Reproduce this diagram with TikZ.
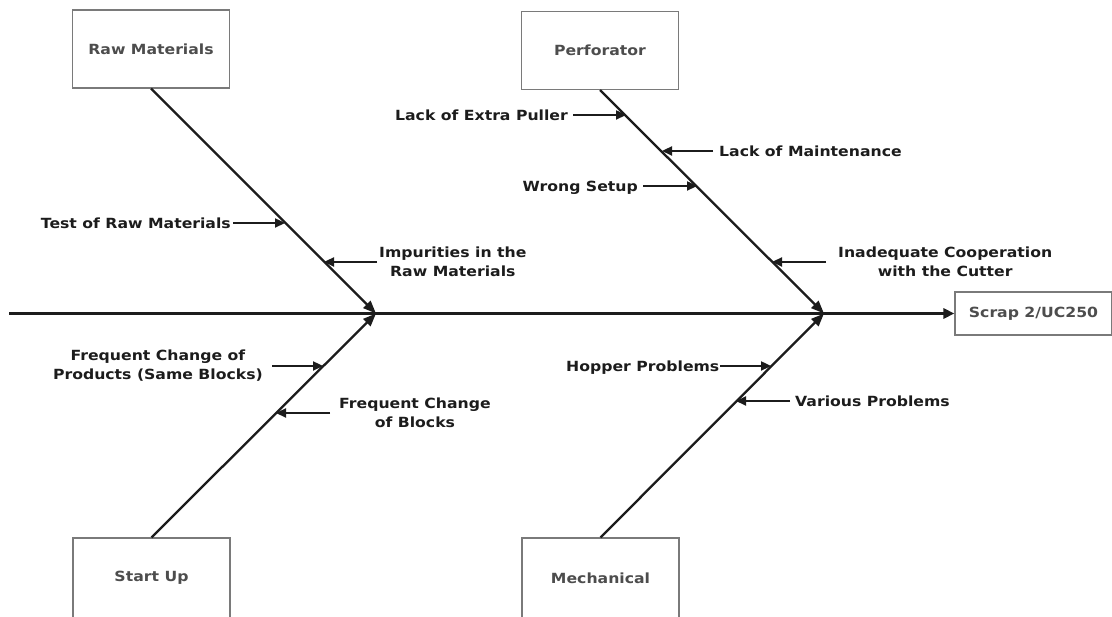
\documentclass[tikz,border=0pt]{standalone}
\usepackage{fontspec}
\setmainfont{DejaVu Sans}[FakeStretch=1.12]
\usetikzlibrary{arrows.meta,calc}
\definecolor{ink}{HTML}{1C1C1C}
\definecolor{boxline}{HTML}{7A7A7A}
\definecolor{boxtext}{HTML}{4D4D4D}
\begin{document}
\begin{tikzpicture}[x=1pt,y=-1pt,
  labelfont/.style={font=\bfseries\fontsize{14}{19}\selectfont},
  category/.style={draw=boxline, line width=1.1pt, fill=white, inner sep=0pt,
    labelfont, text=boxtext, minimum width=157pt, minimum height=78pt},
  effect/.style={category, minimum height=43pt},
  cause/.style={labelfont, text=ink, inner ysep=0pt, text height=10.2pt, text depth=0pt},
  causetwo/.style={labelfont, text=ink, inner ysep=0pt, align=center},
  spine/.style={ink, line width=3pt, -{Triangle[length=11pt,width=10pt]}},
  bone/.style={ink, line width=2.3pt, -{Triangle[length=13pt,width=10pt]}},
  twig/.style={ink, line width=2.3pt, -{Triangle[length=10pt,width=9pt]}}
]
\useasboundingbox (0,0) rectangle (1112,617);

% category boxes and the effect
\node[category] (rm)   at (151,49)   {Raw Materials};
\node[category] (perf) at (600,50.5) {Perforator};
\node[category, minimum height=80pt] (su)   at (151.5,578) {Start Up};
\node[category, minimum height=80pt] (mech) at (600.5,578) {Mechanical};
\node[effect] (scrap) at (1033.5,313.5) {Scrap 2/UC250};

% junctions on the spine
\coordinate (j1) at (376,313.5);
\coordinate (j2) at (824,313.5);
\coordinate (tail) at (9,313.5);

% spine and main bones
\draw[spine] (tail) -- (scrap.west);
\draw[bone] (rm.south) -- (j1);
\draw[bone] (su.north) -- (j1);
\draw[bone] (perf.south) -- (j2);
\draw[bone] (mech.north) -- (j2);

% points where the causes meet their bones
\coordinate (t1)  at (285,223);
\coordinate (t2)  at (324,262);
\coordinate (t3)  at (626,115);
\coordinate (t4)  at (662,151);
\coordinate (t5)  at (697,186);
\coordinate (t6)  at (772,262);
\coordinate (t7)  at (323,366);
\coordinate (t8)  at (276,413);
\coordinate (t9)  at (771,366);
\coordinate (t10) at (736,401);

% causes
\node[cause, anchor=east, inner xsep=2pt] (c1) at (233,223) {Test of Raw Materials};
\node[causetwo, anchor=west, inner xsep=2pt] (c2) at (377,262) {Impurities in the\\Raw Materials};
\node[cause, anchor=east, inner xsep=5pt] (c3) at (573,115) {Lack of Extra Puller};
\node[cause, anchor=west, inner xsep=6pt] (c4) at (713,151) {Lack of Maintenance};
\node[cause, anchor=east, inner xsep=5pt] (c5) at (643,186) {Wrong Setup};
\node[causetwo, anchor=west, inner xsep=12pt] (c6) at (826,262) {Inadequate Cooperation\\with the Cutter};
\node[causetwo, anchor=east, inner xsep=9pt] (c7) at (272,366) {Frequent Change of\\Products (Same Blocks)};
\node[causetwo, anchor=west, inner xsep=9pt] (c8) at (330,413) {Frequent Change\\of Blocks};
\node[cause, anchor=east, inner xsep=0.5pt] (c9) at (720,366) {Hopper Problems};
\node[cause, anchor=west, inner xsep=5pt] (c10) at (790,401) {Various Problems};

\draw[twig] (c1.east) -- (t1);
\draw[twig] (c2.west) -- (t2);
\draw[twig] (c3.east) -- (t3);
\draw[twig] (c4.west) -- (t4);
\draw[twig] (c5.east) -- (t5);
\draw[twig] (c6.west) -- (t6);
\draw[twig] (c7.east) -- (t7);
\draw[twig] (c8.west) -- (t8);
\draw[twig] (c9.east) -- (t9);
\draw[twig] (c10.west) -- (t10);
\end{tikzpicture}
\end{document}
